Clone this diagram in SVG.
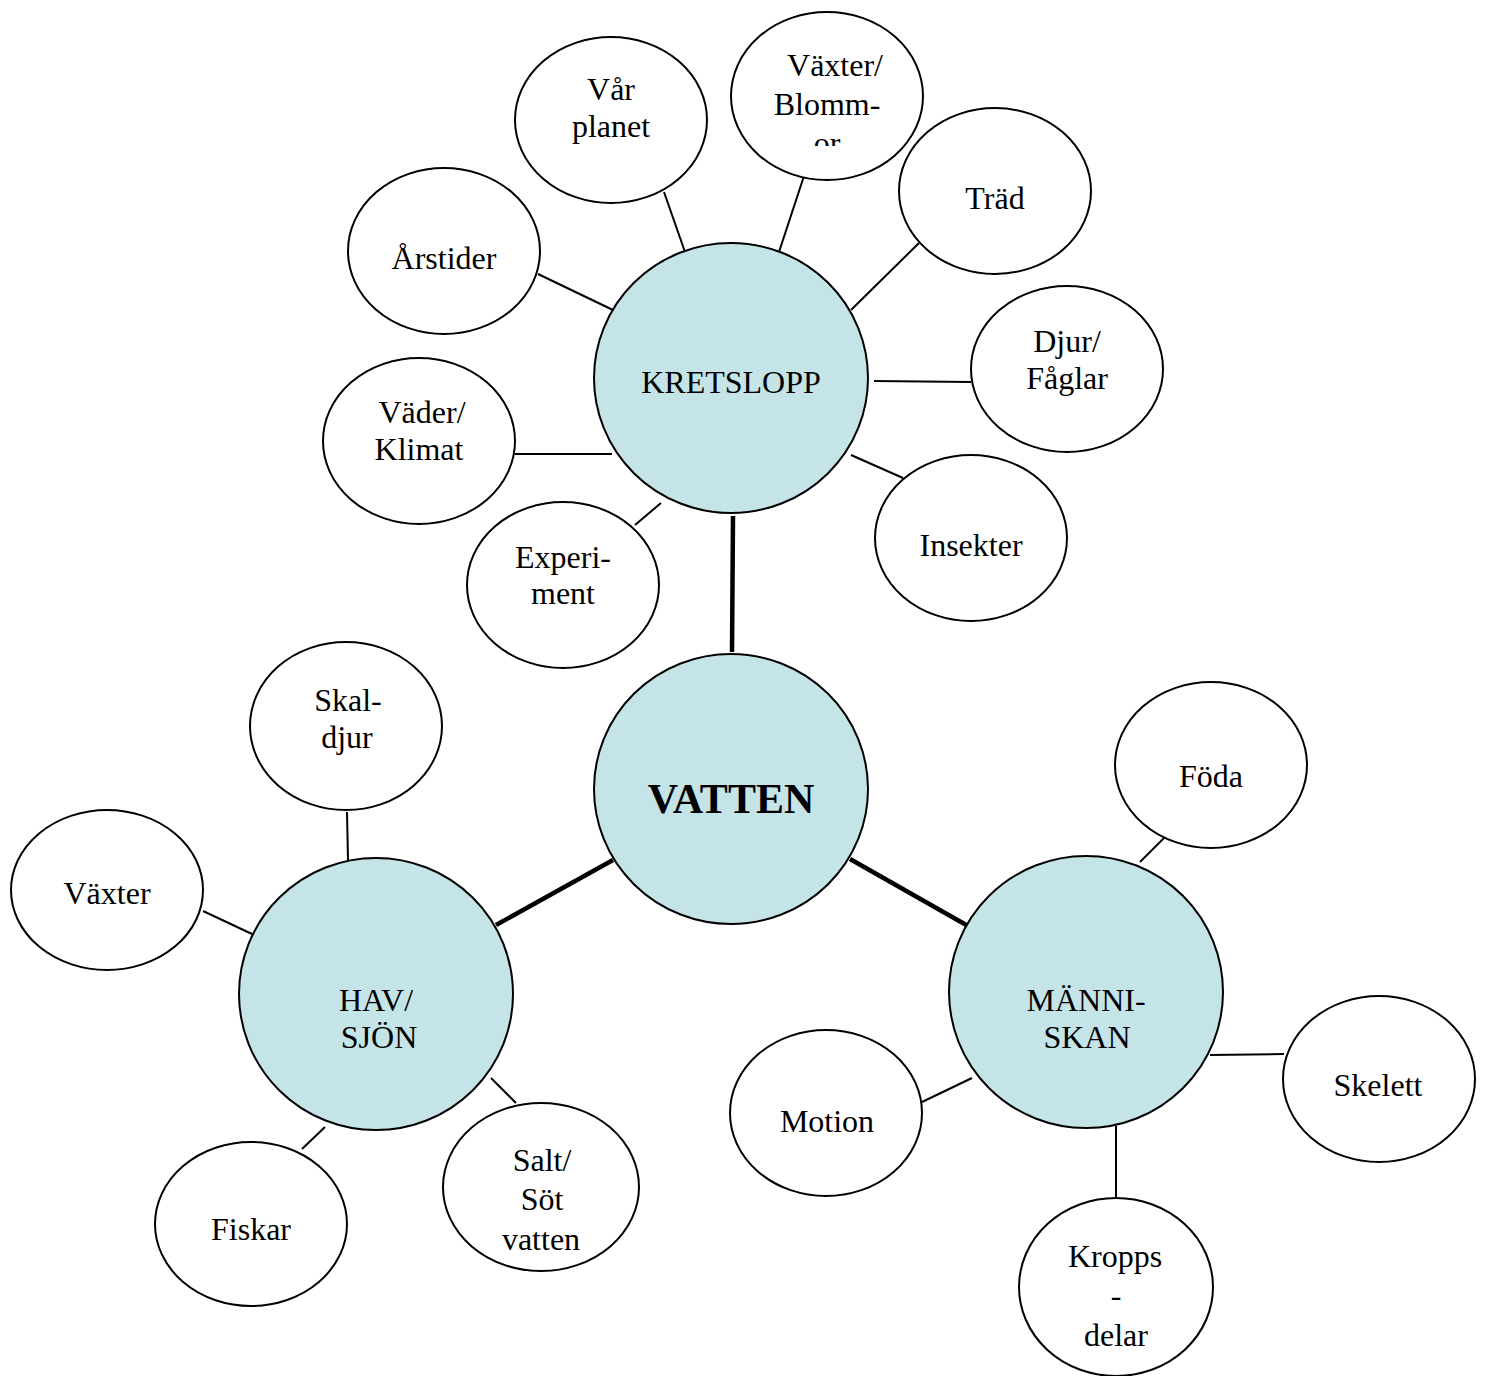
<svg xmlns="http://www.w3.org/2000/svg" width="1488" height="1376" viewBox="0 0 1488 1376">
<style>
.small{fill:#fff;stroke:#000;stroke-width:2}
.big{fill:#c5e4e8;stroke:#000;stroke-width:2}
.thin{stroke:#000;stroke-width:2;fill:none}
.thick{stroke:#000;stroke-width:4.5;fill:none}
text{font-family:"Liberation Serif","Times New Roman",serif;font-size:32px;fill:#000;text-anchor:middle}
.b{font-size:42px;font-weight:bold}
.m{font-size:32px}
</style>
<defs>
<clipPath id="clipV"><rect x="731" y="0" width="193" height="146"/></clipPath>
</defs>
<rect width="1488" height="1376" fill="#fff"/>
<g id="connectors">
<line class="thin" x1="664" y1="192" x2="685" y2="252"/>
<line class="thin" x1="804" y1="176" x2="779" y2="252"/>
<line class="thin" x1="919" y1="243" x2="851" y2="310"/>
<line class="thin" x1="538" y1="274" x2="613" y2="310"/>
<line class="thin" x1="874" y1="381" x2="971" y2="382"/>
<line class="thin" x1="515" y1="454" x2="612" y2="454"/>
<line class="thin" x1="851" y1="455" x2="903" y2="478"/>
<line class="thin" x1="661" y1="503" x2="635" y2="525"/>
<line class="thin" x1="347" y1="812" x2="348" y2="860"/>
<line class="thin" x1="203" y1="911" x2="252" y2="934"/>
<line class="thin" x1="325" y1="1127" x2="302" y2="1149"/>
<line class="thin" x1="491" y1="1078" x2="516" y2="1103"/>
<line class="thin" x1="1164" y1="838" x2="1140" y2="862"/>
<line class="thin" x1="922" y1="1102" x2="972" y2="1078"/>
<line class="thin" x1="1210" y1="1055" x2="1284" y2="1054"/>
<line class="thin" x1="1116" y1="1126" x2="1116" y2="1198"/>
<line class="thick" x1="733" y1="516" x2="732" y2="652"/>
<line class="thick" x1="613" y1="860" x2="496" y2="925"/>
<line class="thick" x1="850" y1="859" x2="968" y2="926"/>
</g>
<g id="vatten"><ellipse class="big" cx="731" cy="789" rx="137" ry="135"/><text class="b" x="731" y="813">VATTEN</text></g>
<g id="kretslopp"><ellipse class="big" cx="731" cy="378" rx="137" ry="135"/><text class="m" x="731" y="393">KRETSLOPP</text></g>
<g id="havsjon"><ellipse class="big" cx="376" cy="994" rx="137" ry="136"/><text class="m" x="376" y="1011">HAV/</text><text class="m" x="379" y="1048">SJÖN</text></g>
<g id="manniskan"><ellipse class="big" cx="1086" cy="992" rx="137" ry="136"/><text class="m" x="1086" y="1011">MÄNNI-</text><text class="m" x="1087" y="1048">SKAN</text></g>
<g id="varplanet"><ellipse class="small" cx="611" cy="120" rx="96" ry="83"/><text x="611" y="100">Vår</text><text x="611" y="137">planet</text></g>
<g id="vaxterblommor"><ellipse class="small" cx="827" cy="96" rx="96" ry="84"/><text x="835" y="76">Växter/</text><text x="827" y="115">Blomm-</text><text x="827" y="154" clip-path="url(#clipV)">or</text></g>
<g id="trad"><ellipse class="small" cx="995" cy="191" rx="96" ry="83"/><text x="995" y="209">Träd</text></g>
<g id="arstider"><ellipse class="small" cx="444" cy="251" rx="96" ry="83"/><text x="444" y="269">Årstider</text></g>
<g id="djur"><ellipse class="small" cx="1067" cy="369" rx="96" ry="83"/><text x="1067" y="352">Djur/</text><text x="1067" y="389">Fåglar</text></g>
<g id="vader"><ellipse class="small" cx="419" cy="441" rx="96" ry="83"/><text x="422" y="423">Väder/</text><text x="419" y="460">Klimat</text></g>
<g id="insekter"><ellipse class="small" cx="971" cy="538" rx="96" ry="83"/><text x="971" y="556">Insekter</text></g>
<g id="experiment"><ellipse class="small" cx="563" cy="585" rx="96" ry="83"/><text x="563" y="568">Experi-</text><text x="563" y="604">ment</text></g>
<g id="skaldjur"><ellipse class="small" cx="346" cy="726" rx="96" ry="84"/><text x="348" y="711">Skal-</text><text x="347" y="748">djur</text></g>
<g id="vaxter"><ellipse class="small" cx="107" cy="890" rx="96" ry="80"/><text x="107" y="904">Växter</text></g>
<g id="fiskar"><ellipse class="small" cx="251" cy="1224" rx="96" ry="82"/><text x="251" y="1240">Fiskar</text></g>
<g id="salt"><ellipse class="small" cx="541" cy="1187" rx="98" ry="84"/><text x="542" y="1171">Salt/</text><text x="542" y="1210">Söt</text><text x="541" y="1250">vatten</text></g>
<g id="foda"><ellipse class="small" cx="1211" cy="765" rx="96" ry="83"/><text x="1211" y="787">Föda</text></g>
<g id="motion"><ellipse class="small" cx="826" cy="1113" rx="96" ry="83"/><text x="827" y="1132">Motion</text></g>
<g id="skelett"><ellipse class="small" cx="1379" cy="1079" rx="96" ry="83"/><text x="1378" y="1096">Skelett</text></g>
<g id="kroppsdelar"><ellipse class="small" cx="1116" cy="1287" rx="97" ry="89"/><text x="1115" y="1267">Kropps</text><text x="1116" y="1306">-</text><text x="1116" y="1346">delar</text></g>
</svg>
